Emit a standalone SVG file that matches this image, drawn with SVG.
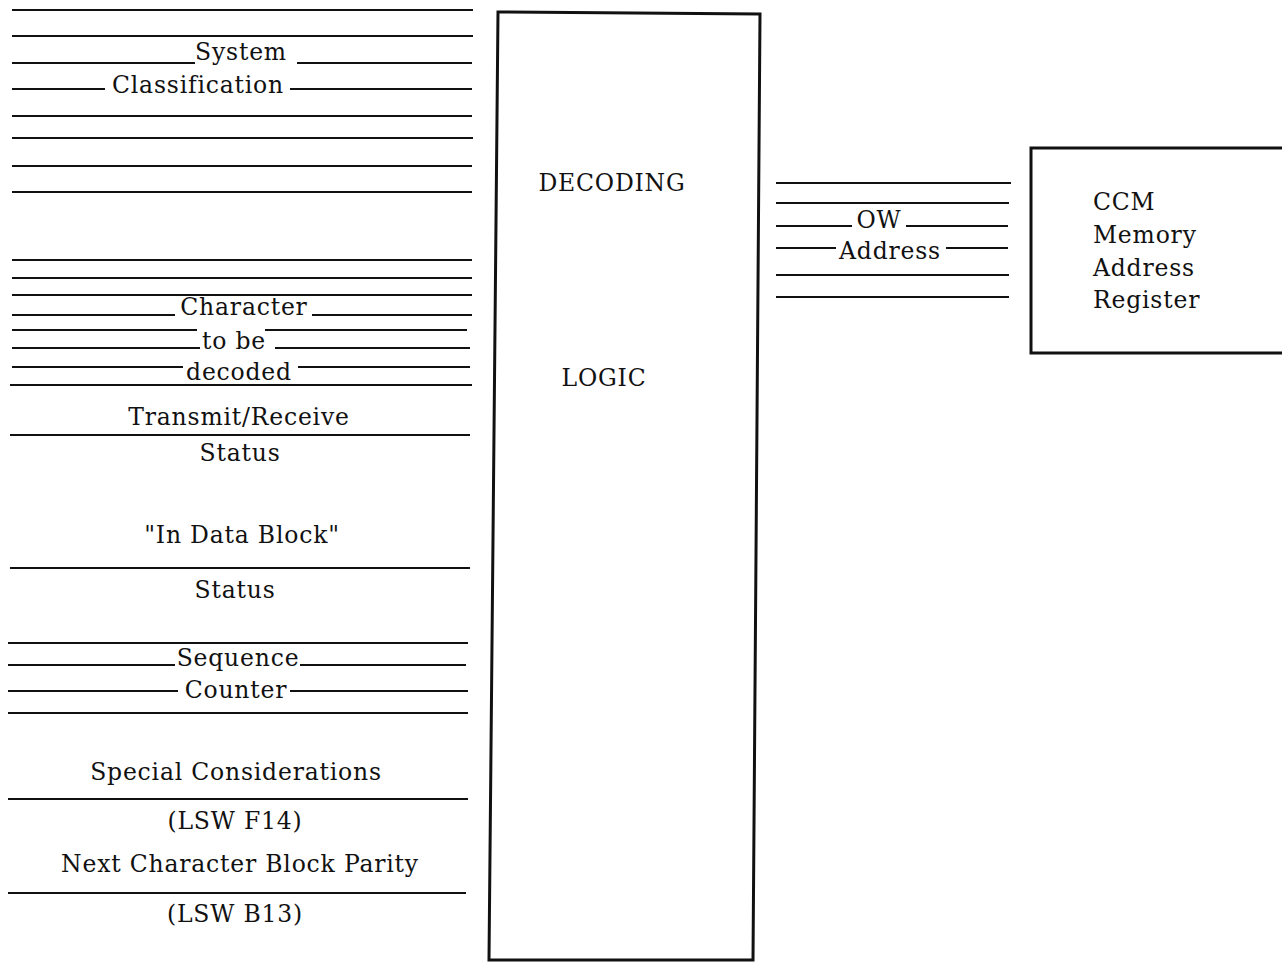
<svg xmlns="http://www.w3.org/2000/svg" width="1282" height="962" viewBox="0 0 1282 962">
<style>
.l{stroke:#111;stroke-width:2;fill:none}
.b{stroke:#111;stroke-width:3;fill:none}
text{font-family:"DejaVu Serif","Liberation Serif",serif;font-size:23.5px;letter-spacing:0.8px;fill:#111}
.c{text-anchor:middle}
</style>
<rect width="1282" height="962" fill="#fff"/>
<g id="decoding-logic">
<polygon class="b" points="498,12 760,14 753,960 489,960"/>
<text x="612" y="191" class="c">DECODING</text>
<text x="604" y="386" class="c">LOGIC</text>
</g>
<g id="ccm-register">
<polyline class="b" points="1290,148 1031,148 1031,353 1290,353"/>
<text x="1093" y="210">CCM</text>
<text x="1093" y="243">Memory</text>
<text x="1093" y="276">Address</text>
<text x="1093" y="308">Register</text>
</g>
<g id="connectors">
<path class="l" d="M12,10H473M12,36H473M12,63H195M297,63H472M12,89H105M290,89H472M12,116H472M12,138H473M12,166H472M12,192H472"/>
<path class="l" d="M12,260H472M12,278H472M12,295H472M12,315H175M312,315H472M12,330H197M265,330H467M12,348H200M275,348H470M12,367H183M298,367H470M10,385H472M10,435H470"/>
<path class="l" d="M10,568H470"/>
<path class="l" d="M8,643H468M8,665H175M300,665H466M8,691H178M290,691H468M8,713H468"/>
<path class="l" d="M8,799H468M8,893H466"/>
<path class="l" d="M776,183H1011M776,203H1009M776,226H852M906,226H1008M776,248H836M946,248H1008M776,275H1009M776,297H1009"/>
</g>
<g id="labels">
<text x="241" y="60" class="c">System</text>
<text x="198" y="93" class="c">Classification</text>
<text x="244" y="315" class="c">Character</text>
<text x="234" y="349" class="c">to be</text>
<text x="239" y="380" class="c">decoded</text>
<text x="239" y="425" class="c">Transmit/Receive</text>
<text x="240" y="461" class="c">Status</text>
<text x="242" y="543" class="c">"In Data Block"</text>
<text x="235" y="598" class="c">Status</text>
<text x="238" y="666" class="c">Sequence</text>
<text x="236" y="698" class="c">Counter</text>
<text x="236" y="780" class="c">Special Considerations</text>
<text x="235" y="829" class="c">(LSW F14)</text>
<text x="240" y="872" class="c">Next Character Block Parity</text>
<text x="235" y="922" class="c">(LSW B13)</text>
<text x="879" y="228" class="c">OW</text>
<text x="890" y="259" class="c">Address</text>
</g>
</svg>
